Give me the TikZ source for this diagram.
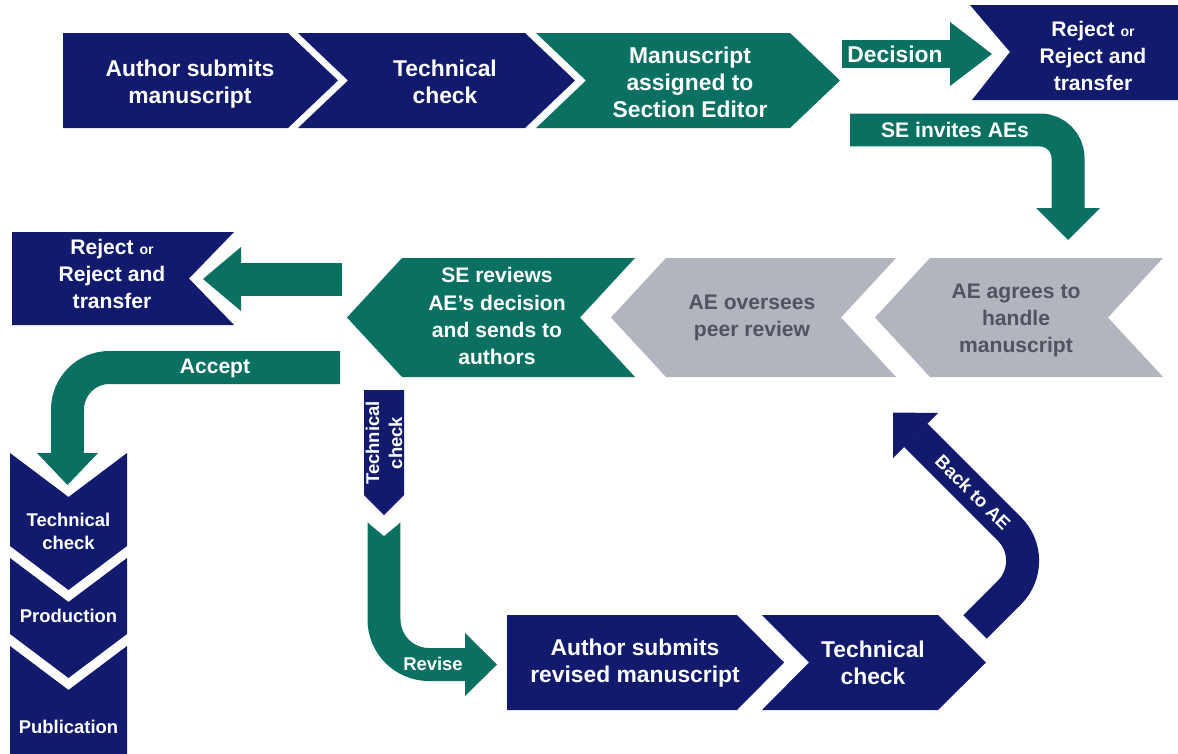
\documentclass[tikz,border=0pt]{standalone}
\usepackage{fontspec}
\setmainfont{Liberation Sans}
\usepackage{tikz}
\definecolor{navy}{RGB}{18,26,110}
\definecolor{flowgreen}{RGB}{10,112,98}
\definecolor{flowgrey}{RGB}{178,181,190}
\definecolor{greytext}{RGB}{80,84,96}
\begin{document}
\begin{tikzpicture}[x=0.02cm,y=-0.02cm]
    \tikzstyle{txt}=[text=white,align=center,inner sep=0pt,font=\bfseries\fontsize{13}{15.4}\selectfont]
    \tikzstyle{small txt}=[txt,font=\bfseries\fontsize{12}{15.4}\selectfont]
    \tikzstyle{tiny txt}=[txt,font=\bfseries\fontsize{10.5}{13}\selectfont]
    \tikzstyle{grey txt}=[small txt,text=greytext]
    \tikzstyle{band}=[line width=0.66cm]
    \useasboundingbox (0,0) rectangle (1178,754);
    % first row
    \fill[navy] (63,33) -- (288,33) -- (338,80.5) -- (288,128) -- (63,128) -- cycle;
    \fill[navy] (298,33) -- (525,33) -- (575,80.5) -- (525,128) -- (298,128) -- (348,80.5) -- cycle;
    \fill[flowgreen] (536,33) -- (790,33) -- (840,80.5) -- (790,128) -- (536,128) -- (586,80.5) -- cycle;
    \node[txt] (S_1) at (190,84) {Author submits\\manuscript};
    \node[txt] (S_2) at (445,82) {Technical\\check};
    \node[txt] (S_3) at (690,82) {Manuscript\\assigned to\\Section Editor};
    \coordinate (D_a) at (842,54);
    \coordinate (D_b) at (950,54);
    \draw[flowgreen,line width=0.56cm] (D_a) -- (D_b);
    \fill[flowgreen] (950,22) -- (992,54) -- (950,86) -- cycle;
    \node[txt] (S_d) at (895,54) {Decision};
    \fill[navy] (970,5) -- (1178,5) -- (1178,100) -- (972,100) -- (1010,52) -- cycle;
    \node[small txt] (S_r1) at (1093,56) {Reject {\fontsize{8}{8}\selectfont or}\\Reject and\\transfer};
    % SE invites AEs
    \coordinate (I_a) at (850,130);
    \coordinate (I_b) at (1068,130);
    \coordinate (I_c) at (1068,208);
    \draw[flowgreen,band,rounded corners=0.56cm] (I_a) -- (I_b) -- (I_c);
    \fill[flowgreen] (1036,208) -- (1100,208) -- (1068,240) -- cycle;
    \node[small txt] (S_i) at (955,130) {SE invites AEs};
    % second row
    \fill[flowgrey] (1163,258) -- (930,258) -- (875,317.5) -- (930,377) -- (1163,377) -- (1108,317.5) -- cycle;
    \fill[flowgrey] (896,258) -- (666,258) -- (611,317.5) -- (666,377) -- (896,377) -- (841,317.5) -- cycle;
    \fill[flowgreen] (635,258) -- (402,258) -- (347,317.5) -- (402,377) -- (635,377) -- (580,317.5) -- cycle;
    \node[grey txt] (S_4) at (1016,320) {AE agrees to\\handle\\manuscript};
    \node[grey txt] (S_5) at (752,318) {AE oversees\\peer review};
    \node[small txt] (S_6) at (497,316) {SE reviews\\AE's decision\\and sends to\\authors};
    \coordinate (L_a) at (342,279);
    \coordinate (L_b) at (241,279);
    \draw[flowgreen,band] (L_a) -- (L_b);
    \fill[flowgreen] (241,247) -- (241,311) -- (203,279) -- cycle;
    \fill[navy] (12,232) -- (234,232) -- (189,278.5) -- (234,325) -- (12,325) -- cycle;
    \node[small txt] (S_r2) at (112,274) {Reject {\fontsize{8}{8}\selectfont or}\\Reject and\\transfer};
    % accept
    \coordinate (A_a) at (340,367.5);
    \coordinate (A_b) at (67.5,367.5);
    \coordinate (A_c) at (67.5,453);
    \draw[flowgreen,band,rounded corners=0.84cm] (A_a) -- (A_b) -- (A_c);
    \fill[flowgreen] (37,453) -- (98,453) -- (67.5,485) -- cycle;
    \node[small txt] (S_a) at (215,368) {Accept};
    \fill[navy] (10,453) -- (68.5,497) -- (127,453) -- (127,546) -- (68.5,590) -- (10,546) -- cycle;
    \fill[navy] (10,558) -- (68.5,602) -- (127,558) -- (127,634) -- (68.5,678) -- (10,634) -- cycle;
    \fill[navy] (10,646) -- (68.5,690) -- (127,646) -- (127,754) -- (10,754) -- cycle;
    \node[tiny txt] (S_7) at (68.5,531) {Technical\\check};
    \node[tiny txt] (S_8) at (68.5,616) {Production};
    \node[tiny txt] (S_9) at (68.5,727) {Publication};
    % revise loop
    \fill[navy] (364,390) -- (404,390) -- (404,495) -- (384,515) -- (364,495) -- cycle;
    \node[tiny txt,rotate=90] (S_10) at (384,443) {Technical\\check};
    \coordinate (V_a) at (384,522);
    \coordinate (V_b) at (384,664.5);
    \coordinate (V_c) at (465,664.5);
    \draw[flowgreen,band,rounded corners=0.9cm] (V_a) -- (V_b) -- (V_c);
    \fill[white] (366,521) -- (402,521) -- (384,536) -- cycle;
    \fill[flowgreen] (465,633) -- (465,696) -- (497,664.5) -- cycle;
    \node[tiny txt] (S_v) at (433,664) {Revise};
    \fill[navy] (507,615) -- (737,615) -- (784,662.5) -- (737,710) -- (507,710) -- cycle;
    \fill[navy] (762,615) -- (938,615) -- (986,662.5) -- (938,710) -- (762,710) -- (809,662.5) -- cycle;
    \node[txt] (S_11) at (635,663) {Author submits\\revised manuscript};
    \node[txt] (S_12) at (873,663) {Technical\\check};
    \coordinate (B_a) at (975,627);
    \coordinate (B_b) at (1041.25,560.75);
    \coordinate (B_c) at (915.5,435);
    \draw[navy,band,rounded corners=0.9cm] (B_a) -- (B_b) -- (B_c);
    \fill[navy] (938,413) -- (893,412.5) -- (893,458) -- cycle;
    \node[tiny txt,rotate=-45] (S_b) at (973,492.5) {Back to AE};
\end{tikzpicture}
\end{document}
